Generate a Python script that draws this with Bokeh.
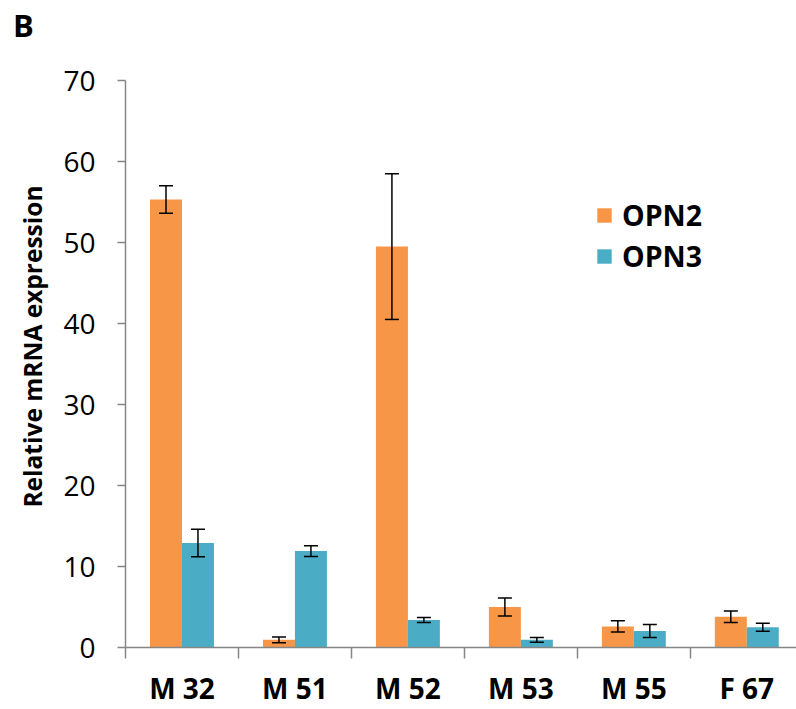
from bokeh.plotting import figure
from bokeh.models import (Range1d, FixedTicker, Whisker, ColumnDataSource, TeeHead,
                          Legend, LegendItem, Title, Div)
from bokeh.layouts import column
from bokeh.transform import dodge
from bokeh.embed import file_html
from bokeh.resources import INLINE

categories = ["M 32", "M 51", "M 52", "M 53", "M 55", "F 67"]
series = ["OPN2", "OPN3"]
opn2 = [55.3, 0.95, 49.5, 5.0, 2.6, 3.8]
opn2_err = [1.7, 0.35, 9.0, 1.1, 0.7, 0.7]
opn3 = [12.9, 11.9, 3.4, 0.95, 2.05, 2.5]
opn3_err = [1.7, 0.65, 0.3, 0.3, 0.8, 0.5]
colors = ["#F79646", "#4BACC6"]
y_ticks = [0, 10, 20, 30, 40, 50, 60, 70]
panel_letter = "B"
y_title = "Relative mRNA expression"

pos = [i + 0.5 for i in range(len(categories))]
src = ColumnDataSource(dict(
    x=pos,
    opn2=opn2, opn2_lo=[v - e for v, e in zip(opn2, opn2_err)], opn2_hi=[v + e for v, e in zip(opn2, opn2_err)],
    opn3=opn3, opn3_lo=[v - e for v, e in zip(opn3, opn3_err)], opn3_hi=[v + e for v, e in zip(opn3, opn3_err)],
))

W = 796
DIV_H = 40
H = 709 - DIV_H
p = figure(width=W, height=H, output_backend="svg", toolbar_location=None,
           x_range=Range1d(0, 5.94), y_range=Range1d(0, 70),
           min_border_left=125, min_border_right=0, min_border_top=40, min_border_bottom=59)
p.outline_line_color = None
p.grid.visible = False
p.background_fill_color = "white"
p.border_fill_color = "white"

bw = 0.283
off = 0.1415
r1 = p.vbar(x=dodge("x", -off), top="opn2", width=bw, bottom=0, source=src,
            fill_color=colors[0], line_color=None)
r2 = p.vbar(x=dodge("x", off), top="opn3", width=bw, bottom=0, source=src,
            fill_color=colors[1], line_color=None)

for key, o in (("opn2", -off), ("opn3", off)):
    w = Whisker(base=dodge("x", o), lower=key + "_lo", upper=key + "_hi", source=src,
                level="overlay", line_color="black", line_width=1.5,
                upper_head=TeeHead(size=14, line_color="black", line_width=1.5),
                lower_head=TeeHead(size=14, line_color="black", line_width=1.5))
    p.add_layout(w)

axis_color = "#868686"
xa = p.xaxis[0]
xa.ticker = FixedTicker(ticks=pos, minor_ticks=list(range(len(categories) + 1)))
xa.major_label_overrides = {x: c for x, c in zip(pos, categories)}
xa.major_tick_out = 0
xa.major_tick_in = 0
xa.minor_tick_out = 11
xa.minor_tick_in = 0
xa.minor_tick_line_color = axis_color
xa.minor_tick_line_width = 1.5
xa.axis_line_color = axis_color
xa.axis_line_width = 1.5
xa.major_label_text_font = "Open Sans"
xa.major_label_text_font_style = "bold"
xa.major_label_text_font_size = "28px"
xa.major_label_text_color = "black"
xa.major_label_standoff = 10

ya = p.yaxis[0]
ya.ticker = FixedTicker(ticks=y_ticks)
ya.minor_tick_line_color = None
ya.major_tick_out = 8
ya.major_tick_in = 0
ya.major_tick_line_color = axis_color
ya.major_tick_line_width = 1.5
ya.axis_line_color = axis_color
ya.axis_line_width = 1.5
ya.major_label_text_font = "Open Sans"
ya.major_label_text_font_size = "28px"
ya.major_label_text_color = "black"
ya.major_label_standoff = 22

yt = Title(text=y_title, align="right", offset=105, standoff=24, vertical_align="bottom",
           text_font="Open Sans", text_font_style="bold", text_font_size="24.5px",
           text_color="black")
p.add_layout(yt, "left")

legend = Legend(items=[LegendItem(label=series[0], renderers=[r1]),
                       LegendItem(label=series[1], renderers=[r2])],
                location=(470, 372), orientation="vertical",
                glyph_width=18, glyph_height=18, spacing=3, padding=0,
                label_text_font="Open Sans", label_text_font_style="bold",
                label_text_font_size="28.5px", label_text_color="black",
                border_line_alpha=0, background_fill_alpha=0, label_standoff=9)
p.add_layout(legend)

div = Div(text=('<div style="font-family: \'Open Sans\'; font-weight: bold; font-size: 31px; '
                'line-height: 31px; color: black; margin: 10px 0 0 13px;">' + panel_letter + '</div>'),
          width=W, height=DIV_H, margin=0)

layout = column(div, p, spacing=0)
open("out.html", "w").write(file_html(layout, INLINE))
